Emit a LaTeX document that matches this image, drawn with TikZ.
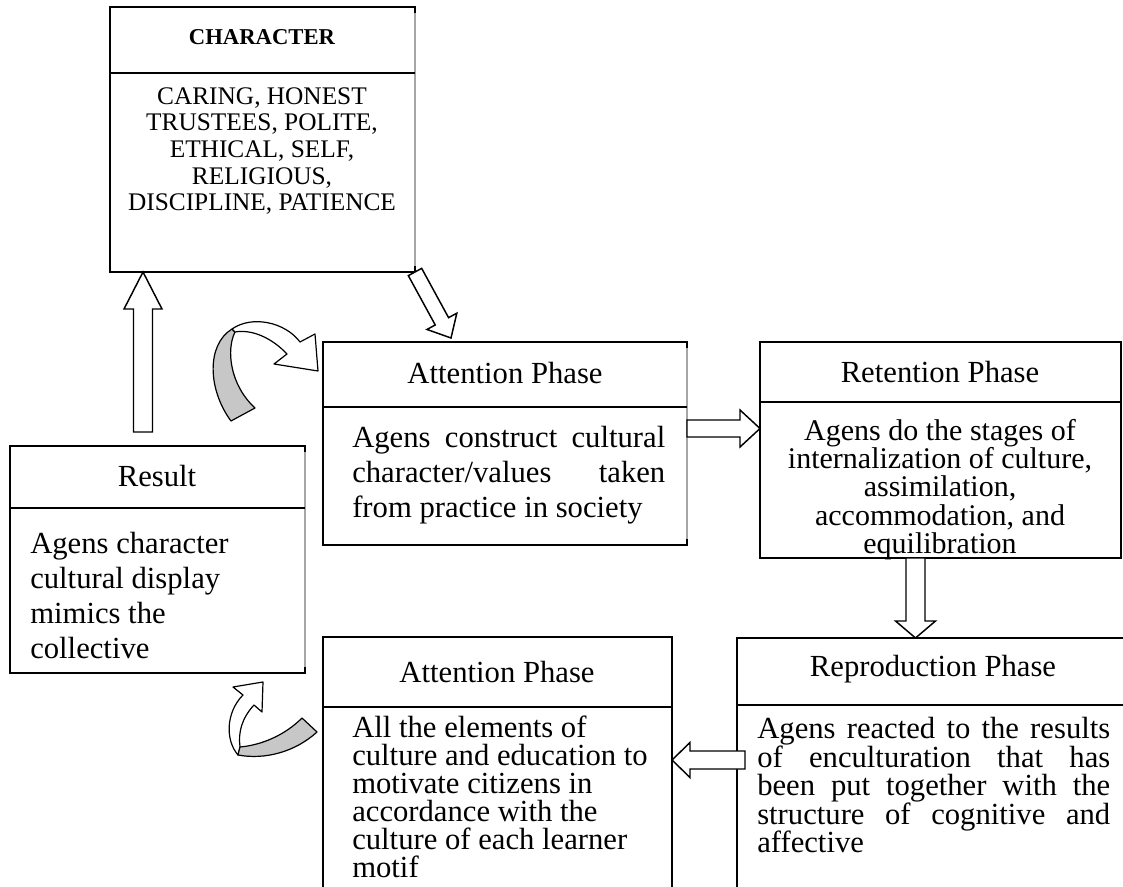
\documentclass[tikz,border=0pt]{standalone}
\usepackage{fontspec}
\setmainfont{Liberation Serif}
\usetikzlibrary{calc}
\tolerance=10000 \hbadness=10000 \hyphenpenalty=10000

% one px of the sketch = 0.75pt
\tikzset{
  frame/.style={draw, line width=1.1pt, anchor=north west, inner sep=0pt, outer sep=0pt},
  split/.style={line width=1.9pt},
  faint/.style={draw=black!35, line width=1pt},
  phase/.style={inner sep=0pt, font=\fontsize{23}{26}\selectfont},
  blockline/.style={draw, fill=white, line width=1.1pt, line join=miter},
  ribbon/.style={draw, line width=0.9pt, line join=round},
}
\newcommand\phasebox[5]{% name, x, y, width, height (px)
  \node[frame, minimum width={#4*0.75pt}, minimum height={#5*0.75pt}] (#1) at (#2,#3) {};}
\newcommand\blockarrow[5]{% tail, tip, half shaft, half head, head length (px)
  \coordinate (bah) at ($(#2)!{#5*0.75pt}!(#1)$);
  \draw[blockline] ($(#1)!{#3*0.75pt}!90:(#2)$) -- ($(bah)!{#3*0.75pt}!90:(#2)$)
    -- ($(bah)!{#4*0.75pt}!90:(#2)$) -- (#2) -- ($(bah)!{#4*0.75pt}!-90:(#2)$)
    -- ($(bah)!{#3*0.75pt}!-90:(#2)$) -- ($(#1)!{#3*0.75pt}!-90:(#2)$) -- cycle;}

\begin{document}
\begin{tikzpicture}[x=0.75pt, y=-0.75pt]
  \useasboundingbox (0,0) rectangle (1123,887);

  % boxes
  \phasebox{charbox}{110}{7}{305}{265}
  \phasebox{att1box}{323}{342}{364}{203}
  \phasebox{retbox}{760}{342}{361}{216}
  \phasebox{resbox}{10}{446}{295}{227}
  \phasebox{att2box}{323}{637}{349}{270}
  \phasebox{repbox}{737}{638}{420}{270}

  % lighter right edges
  \draw[faint] ($(charbox.north east)+(0,6)$) -- ($(charbox.south east)+(0,-6)$);
  \draw[faint] ($(att1box.north east)+(0,6)$) -- ($(att1box.south east)+(0,-6)$);
  \draw[faint] ($(resbox.north east)+(0,6)$) -- ($(resbox.south east)+(0,-6)$);

  \draw[split] (charbox.west |- 0,73) -- (charbox.east |- 0,73);
  \draw[split] (att1box.west |- 0,407) -- (att1box.east |- 0,407);
  \draw[split] (retbox.west |- 0,402) -- (retbox.east |- 0,402);
  \draw[split] (resbox.west |- 0,508) -- (resbox.east |- 0,508);
  \draw[split] (att2box.west |- 0,707) -- (att2box.east |- 0,707);
  \draw[split] (repbox.west |- 0,705) -- (repbox.east |- 0,705);

  % titles
  \node[phase, font=\fontsize{17}{20}\selectfont\bfseries] (chartitle) at (262,37) {CHARACTER};
  \node[phase] (att1title) at (505,373) {Attention Phase};
  \node[phase] (rettitle) at (940,372) {Retention Phase};
  \node[phase] (restitle) at (157,476) {Result};
  \node[phase] (att2title) at (497,672) {Attention Phase};
  \node[phase] (reptitle) at (933,669) {Reproduction Phase};

  % texts
  \node[anchor=north, align=center, inner sep=0pt, font=\fontsize{19}{20}\selectfont] (chartext) at (262,87)
    {CARING, HONEST\\TRUSTEES, POLITE,\\ETHICAL, SELF,\\RELIGIOUS,\\DISCIPLINE, PATIENCE};
  \node[anchor=north west, text width=234.75pt, align=justify, inner sep=0pt,
    font=\fontsize{23}{26.25}\selectfont] (att1text) at (352,426)
    {Agens construct cultural\linebreak character/values taken\linebreak from practice in society};
  \node[anchor=north, align=center, inner sep=0pt, font=\fontsize{22.5}{21.2}\selectfont] (rettext) at (940,419)
    {Agens do the stages of\\internalization of culture,\\assimilation,\\accommodation, and\\equilibration};
  \node[anchor=north west, align=left, inner sep=0pt, font=\fontsize{23}{26.25}\selectfont] (restext) at (30,532)
    {Agens character\\cultural display\\mimics the\\collective};
  \node[anchor=north west, align=left, inner sep=0pt, font=\fontsize{23}{21}\selectfont] (att2text) at (352,716)
    {All the elements of\\culture and education to\\motivate citizens in\\accordance with the\\culture of each learner\\motif};
  \node[anchor=north west, text width=264.75pt, align=justify, inner sep=0pt,
    font=\fontsize{23}{21.4}\selectfont] (reptext) at (757,717)
    {Agens reacted to the results\linebreak of enculturation that has\linebreak been put together with the\linebreak structure of cognitive and\linebreak affective};

  % block arrows
  \coordinate (upT) at (143,432);
  \coordinate (upP) at (upT |- charbox.south);
  \blockarrow{upT}{upP}{9.5}{19}{37}
  \coordinate (dgT) at (charbox.south east);
  \coordinate (dgP) at (451,338);
  \blockarrow{dgT}{dgP}{7.6}{17}{19}
  \coordinate (rtT) at (687,428.5);
  \coordinate (rtP) at (rtT -| retbox.west);
  \blockarrow{rtT}{rtP}{8.5}{18.5}{20}
  \coordinate (dnT) at (915.5,558);
  \coordinate (dnP) at (dnT |- repbox.north);
  \blockarrow{dnT}{dnP}{9.5}{20}{17}
  \coordinate (lfT) at (745,760);
  \coordinate (lfP) at (lfT -| att2box.east);
  \blockarrow{lfT}{lfP}{9}{17.5}{18}

  % curved arrows
  \draw[ribbon, fill=black!22] (231,421) .. controls (208,390) and (206,345) .. (232,329)
    -- (235,332) .. controls (226,350) and (230,385) .. (255,408) -- cycle;
  \draw[ribbon, fill=white] (232,329) .. controls (252,315) and (285,322) .. (300,342)
    -- (315,334) -- (318,371) -- (274,364) -- (287,354)
    .. controls (272,338) and (252,329) .. (235,332) -- cycle;
  \draw[ribbon, fill=white] (238,755) .. controls (225,740) and (226,712) .. (243,695)
    -- (233,687) -- (263,682) -- (262,712) -- (254,705)
    .. controls (242,718) and (238,732) .. (240,747) -- cycle;
  \draw[ribbon, fill=black!22] (240,747) .. controls (262,745) and (285,735) .. (302,718)
    -- (317,732) .. controls (295,752) and (265,760) .. (238,755) -- cycle;
\end{tikzpicture}
\end{document}
